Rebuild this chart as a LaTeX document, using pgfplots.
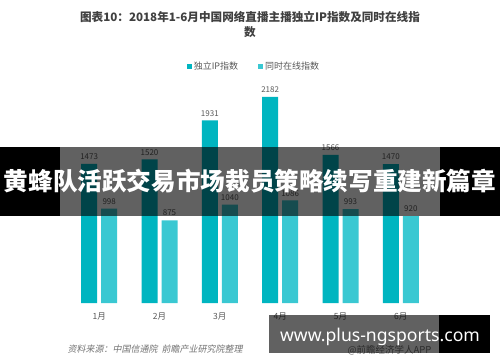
\documentclass[border=0pt]{standalone}
\usepackage{fontspec}
\usepackage{pgfplots}
\pgfplotsset{compat=1.18}
\setmainfont{Noto Sans CJK SC}
\newfontfamily\cjk{Noto Sans CJK SC}
\newfontfamily\cjksl[FakeSlant=0.2]{Noto Sans CJK SC}
\newfontfamily\latin{Noto Sans}
\definecolor{barA}{RGB}{0,181,192}
\definecolor{barB}{RGB}{58,200,210}
\definecolor{lbl}{RGB}{89,89,89}
\definecolor{ttl}{RGB}{64,64,64}
\begin{document}
\begin{tikzpicture}[x=1bp,y=1bp]
\path[use as bounding box, fill=white] (0,0) rectangle (500,362);
% title
\node[font=\cjk\bfseries\fontsize{11.6bp}{15bp}\selectfont, text=ttl, align=center] at (250,337.5) {图表10：2018年1-6月中国网络直播主播独立IP指数及同时在线指\\数};
\coordinate (orig) at (69,59);
\begin{axis}[
  at={(orig)}, anchor=south west,
  scale only axis, width=362bp, height=236.3bp,
  xmin=0.5, xmax=6.5, ymin=0, ymax=2500,
  enlargelimits=false,
  axis x line=bottom, axis y line=none,
  x axis line style={draw=none},
  xtick={1,2,3,4,5,6},
  xticklabels={1月,2月,3月,4月,5月,6月},
  major tick length=0pt,
  xticklabel style={font=\cjk\fontsize{8.5bp}{10bp}\selectfont, text=lbl, yshift=-6bp},
  ytick=\empty,
  /pgf/number format/.cd, 1000 sep={}, assume math mode=true, /pgfplots/.cd,
  ybar, bar width=16bp,
  nodes near coords,
  every node near coord/.append style={font=\cjk\fontsize{8bp}{9bp}\selectfont, text=lbl, anchor=south, inner sep=0pt, yshift=4bp},
  legend columns=2,
  legend style={at={(0.5,1)}, anchor=center, xshift=4bp, draw=none, fill=none,
    font=\cjk\fontsize{9bp}{10bp}\selectfont, text=lbl,
    /tikz/every even column/.append style={column sep=18bp},
    inner sep=0pt},
]
\addplot[fill=barA, draw=none, bar shift=-10bp,
  legend image code/.code={\fill[barA] (0bp,-2.5bp) rectangle (5bp,2.5bp);}]
  coordinates {(1,1473) (2,1520) (3,1931) (4,2182) (5,1566) (6,1470)};
\addplot[fill=barB, draw=none, bar shift=10bp,
  legend image code/.code={\fill[barB] (0bp,-2.5bp) rectangle (5bp,2.5bp);}]
  coordinates {(1,998) (2,875) (3,1040) (4,1086) (5,993) (6,920)};
\legend{独立IP指数,同时在线指数}
\end{axis}
% source
\node[font=\cjksl\fontsize{9bp}{10bp}\selectfont, text=black!55, anchor=west] at (64,13) {资料来源：中国信通院\ \ 前瞻产业研究院整理};
\node[font=\cjk\fontsize{9.5bp}{10bp}\selectfont, text=black!55, anchor=west] at (344,12) {@前瞻经济学人APP};
% banner overlay
\fill[black] (0,146) rectangle (60,215);
\fill[black, opacity=0.62] (60,146) rectangle (440,215);
\fill[black] (440,146) rectangle (500,215);
\node[font=\cjk\bfseries\fontsize{24.6bp}{26bp}\selectfont, text=white] at (250,181) {黄蜂队活跃交易市场裁员策略续写重建新篇章};
% watermark overlay
\fill[black, opacity=0.62] (269,9) rectangle (439,47);
\fill[black] (439,9) rectangle (490,47);
\node[font=\latin\bfseries\fontsize{17.6bp}{18bp}\selectfont, text=white] at (380,25) {www.plus-ngsports.com};
\end{tikzpicture}
\end{document}
